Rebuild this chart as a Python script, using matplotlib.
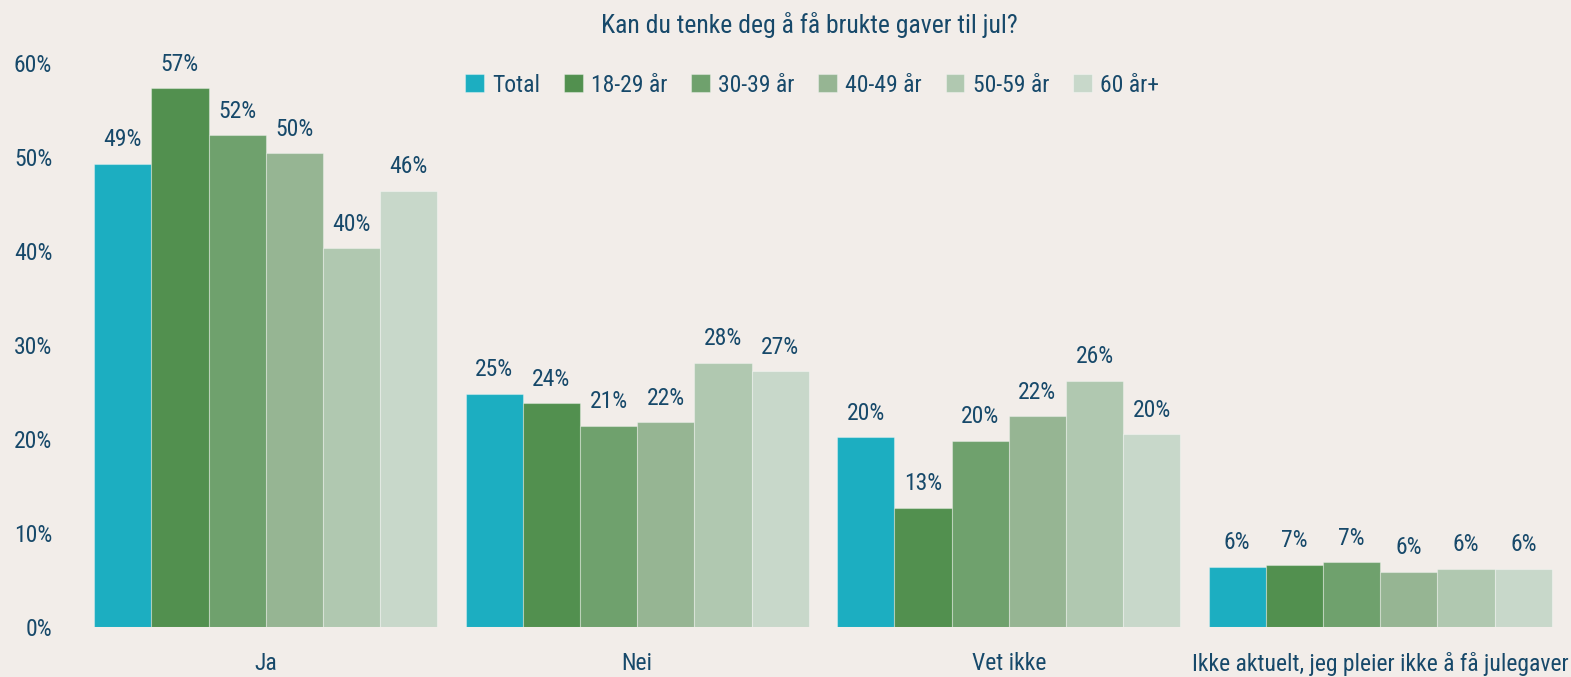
import matplotlib.pyplot as plt
from matplotlib import font_manager
import numpy as np

# pick a narrow font if there is one
names = {f.name for f in font_manager.fontManager.ttflist}
family = 'DejaVu Sans'
for cand in ['Liberation Sans Narrow', 'Roboto Condensed', 'Open Sans Condensed', 'Roboto']:
    if cand in names:
        family = cand
        break
plt.rcParams['font.family'] = [family, 'DejaVu Sans']

categories = ['Ja', 'Nei', 'Vet ikke', 'Ikke aktuelt, jeg pleier ikke å få julegaver']
series = ['Total', '18-29 år', '30-39 år', '40-49 år', '50-59 år', '60 år+']
total = [49.3, 24.8, 20.2, 6.4]
age_18_29 = [57.3, 23.8, 12.7, 6.6]
age_30_39 = [52.3, 21.4, 19.8, 6.9]
age_40_49 = [50.4, 21.8, 22.4, 5.9]
age_50_59 = [40.3, 28.1, 26.2, 6.2]
age_60 = [46.4, 27.2, 20.5, 6.2]
values = [total, age_18_29, age_30_39, age_40_49, age_50_59, age_60]
colors = ['#1CAEC1', '#52904F', '#6FA16D', '#96B593', '#B0C8B0', '#C8D8CA']

bg = '#F2EDE9'
txt = '#17496A'

fig = plt.figure(figsize=(15.71, 6.77), dpi=100, facecolor=bg)
ax = fig.add_axes([0.0509, 0.0739, 0.9459, 0.833])
ax.set_facecolor(bg)

x = np.arange(len(categories))
w = 0.154
for i, (name, vals) in enumerate(zip(series, values)):
    pos = x + (i - 2.5) * w
    bars = ax.bar(pos, vals, w, color=colors[i], label=name,
                  edgecolor=(1, 1, 1, 0.35), linewidth=0.8)
    for b, v in zip(bars, vals):
        ax.annotate(f'{v:.0f}%', (b.get_x() + b.get_width() / 2, v),
                    xytext=(0, 9), textcoords='offset points',
                    ha='center', va='bottom', fontsize=17, color=txt)

ax.set_xlim(-0.5, 3.5)
ax.set_ylim(0, 60)
ax.set_yticks(range(0, 61, 10))
ax.set_yticklabels([f'{t}%' for t in range(0, 61, 10)])
ax.set_xticks(x)
ax.set_xticklabels(categories)
ax.tick_params(axis='both', length=0, labelsize=17, labelcolor=txt)
ax.tick_params(axis='y', pad=20)
ax.tick_params(axis='x', pad=18)
for s in ax.spines.values():
    s.set_visible(False)

fig.text(809 / 1571, 1 - 25 / 677, 'Kan du tenke deg å få brukte gaver til jul?',
         ha='center', va='center', fontsize=18.5, color=txt)
fig.legend(loc='center', bbox_to_anchor=(812 / 1571, 1 - 85 / 677), ncol=6,
           frameon=False, fontsize=17, labelcolor=txt, handlelength=0.8,
           handleheight=0.8, handletextpad=0.35, columnspacing=1.0)

fig.savefig('out.png', dpi=100, facecolor=bg)
